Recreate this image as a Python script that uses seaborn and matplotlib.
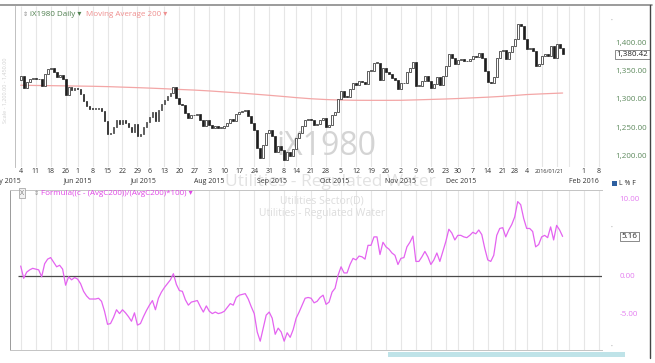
import numpy as np
import pandas as pd
import matplotlib
matplotlib.use("Agg")
import matplotlib.pyplot as plt
from matplotlib.patches import Rectangle
import seaborn as sns

sns.set_theme(style="white")
plt.rcParams['font.family'] = ['Open Sans', 'DejaVu Sans']

# ---------------- data ----------------
holidays = ["2015-05-25", "2015-07-03", "2015-09-07", "2015-11-26",
            "2015-12-25", "2016-01-01", "2016-01-18"]

close = [1343.2, 1322.0, 1332.6, 1336.6, 1339.3, 1337.5, 1336.2, 1324.2, 1346.6, 1354.5,
         1357.1, 1349.1, 1341.0, 1343.6, 1336.9, 1308.9, 1323.4, 1318.1, 1322.0, 1319.2,
         1311.2, 1297.9, 1289.9, 1284.5, 1284.4, 1284.4, 1285.6, 1280.1, 1262.8, 1240.1,
         1241.3, 1251.7, 1264.8, 1258.0, 1264.5, 1259.0, 1252.2, 1244.2, 1258.5, 1237.2,
         1239.8, 1251.5, 1261.8, 1270.8, 1278.5, 1262.4, 1282.0, 1292.3, 1300.0, 1306.3,
         1312.7, 1323.0, 1304.3, 1293.5, 1292.0, 1277.2, 1267.8, 1272.9, 1273.9, 1275.1,
         1264.3, 1254.7, 1265.0, 1255.4, 1251.1, 1253.4, 1250.5, 1251.4, 1253.7, 1259.9,
         1266.2, 1263.2, 1276.0, 1279.6, 1280.6, 1281.5, 1272.1, 1258.6, 1246.4, 1214.5,
         1198.4, 1220.3, 1242.2, 1246.9, 1236.1, 1208.2, 1218.2, 1211.3, 1194.9, 1208.8,
         1200.6, 1213.3, 1232.5, 1242.5, 1253.9, 1265.2, 1266.1, 1264.4, 1256.2, 1258.5,
         1264.6, 1268.4, 1252.6, 1256.4, 1273.1, 1279.5, 1301.5, 1315.6, 1305.1, 1305.0,
         1319.1, 1329.4, 1326.8, 1333.3, 1332.0, 1328.1, 1351.5, 1351.5, 1365.8, 1365.8,
         1335.9, 1356.7, 1348.9, 1345.0, 1338.5, 1334.6, 1319.0, 1329.4, 1330.7, 1349.0,
         1357.0, 1367.5, 1324.8, 1324.9, 1332.9, 1342.1, 1333.2, 1320.3, 1328.3, 1340.1,
         1326.0, 1343.0, 1360.2, 1381.1, 1374.8, 1363.4, 1371.4, 1371.7, 1369.3, 1368.3,
         1372.4, 1377.9, 1375.5, 1382.2, 1374.6, 1351.4, 1332.1, 1329.7, 1340.3, 1374.5,
         1386.5, 1388.1, 1372.6, 1384.8, 1394.4, 1408.3, 1434.9, 1430.1, 1407.0, 1390.8,
         1391.2, 1386.2, 1360.2, 1364.3, 1377.7, 1380.5, 1376.8, 1395.3, 1373.3, 1398.7,
         1391.0, 1380.42]

open_ = [1335.0, 1343.2, 1322.0, 1332.6, 1336.6, 1339.3, 1337.5, 1336.2, 1324.2, 1346.6,
         1354.5, 1357.1, 1349.1, 1341.0, 1343.6, 1336.9, 1308.9, 1323.4, 1318.1, 1322.0,
         1319.2, 1311.2, 1297.9, 1289.9, 1284.5, 1284.4, 1284.4, 1285.6, 1280.1, 1262.8,
         1240.1, 1241.3, 1251.7, 1264.8, 1258.0, 1264.5, 1259.0, 1252.2, 1244.2, 1258.5,
         1237.2, 1239.8, 1251.5, 1261.8, 1270.8, 1278.5, 1262.4, 1282.0, 1292.3, 1300.0,
         1306.3, 1312.7, 1323.0, 1304.3, 1293.5, 1292.0, 1277.2, 1267.8, 1272.9, 1273.9,
         1275.1, 1264.3, 1254.7, 1265.0, 1255.4, 1251.1, 1253.4, 1250.5, 1251.4, 1253.7,
         1259.9, 1266.2, 1263.2, 1276.0, 1279.6, 1280.6, 1281.5, 1272.1, 1258.6, 1246.4,
         1214.5, 1198.4, 1220.3, 1242.2, 1246.9, 1236.1, 1208.2, 1218.2, 1211.3, 1194.9,
         1208.8, 1200.6, 1213.3, 1232.5, 1242.5, 1253.9, 1265.2, 1266.1, 1264.4, 1256.2,
         1258.5, 1264.6, 1268.4, 1252.6, 1256.4, 1273.1, 1279.5, 1301.5, 1315.6, 1305.1,
         1305.0, 1319.1, 1329.4, 1326.8, 1333.3, 1332.0, 1328.1, 1351.5, 1351.5, 1365.8,
         1365.8, 1335.9, 1356.7, 1348.9, 1345.0, 1338.5, 1334.6, 1319.0, 1329.4, 1330.7,
         1349.0, 1357.0, 1367.5, 1324.8, 1324.9, 1332.9, 1342.1, 1333.2, 1320.3, 1328.3,
         1340.1, 1326.0, 1343.0, 1360.2, 1381.1, 1374.8, 1363.4, 1371.4, 1371.7, 1369.3,
         1368.3, 1372.4, 1377.9, 1375.5, 1382.2, 1374.6, 1351.4, 1332.1, 1329.7, 1340.3,
         1374.5, 1386.5, 1388.1, 1372.6, 1384.8, 1394.4, 1408.3, 1434.9, 1430.1, 1407.0,
         1390.8, 1391.2, 1386.2, 1360.2, 1364.3, 1377.7, 1380.5, 1376.8, 1395.3, 1373.3,
         1398.7, 1391.0]

osc = [1.3, -0.3, 0.5, 0.8, 1.0, 0.9, 0.8, -0.1, 1.6, 2.2,
       2.4, 1.8, 1.2, 1.4, 0.9, -1.2, -0.1, -0.5, -0.2, -0.4,
       -1.0, -2.0, -2.6, -3.0, -3.0, -3.0, -2.9, -3.3, -4.6, -6.3,
       -6.2, -5.4, -4.4, -4.9, -4.4, -4.8, -5.3, -5.9, -4.8, -6.4,
       -6.2, -5.3, -4.5, -3.8, -3.2, -4.4, -2.9, -2.1, -1.5, -1.0,
       -0.5, 0.3, -1.1, -1.9, -2.0, -3.1, -3.8, -3.4, -3.3, -3.2,
       -4.0, -4.7, -3.9, -4.6, -4.9, -4.7, -4.9, -4.8, -4.6, -4.1,
       -3.6, -3.8, -2.8, -2.5, -2.4, -2.3, -3.0, -4.0, -4.9, -7.3,
       -8.5, -6.8, -5.1, -4.7, -5.5, -7.6, -6.8, -7.3, -8.5, -7.4,
       -8.0, -7.0, -5.5, -4.7, -3.8, -2.9, -2.8, -2.9, -3.5, -3.3,
       -2.8, -2.5, -3.7, -3.4, -2.1, -1.6, 0.1, 1.2, 0.4, 0.4,
       1.5, 2.3, 2.1, 2.6, 2.5, 2.2, 4.0, 4.0, 5.1, 5.1,
       2.8, 4.4, 3.8, 3.5, 3.0, 2.7, 1.5, 2.3, 2.4, 3.8,
       4.4, 5.2, 1.9, 1.9, 2.5, 3.2, 2.5, 1.5, 2.1, 3.0,
       1.9, 3.2, 4.5, 6.1, 5.6, 4.7, 5.3, 5.3, 5.1, 5.0,
       5.3, 5.7, 5.5, 6.0, 5.4, 3.6, 2.1, 1.9, 2.7, 5.3,
       6.2, 6.3, 5.1, 6.0, 6.7, 7.7, 9.7, 9.3, 7.5, 6.2,
       6.2, 5.8, 3.8, 4.1, 5.1, 5.3, 5.0, 6.4, 4.7, 6.6,
       6.0, 5.16]

ma_dates = ["2015-05-04", "2015-05-11", "2015-05-18", "2015-05-26", "2015-06-01", "2015-06-08",
            "2015-06-15", "2015-06-22", "2015-06-29", "2015-07-06", "2015-07-13", "2015-07-20",
            "2015-07-27", "2015-08-03", "2015-08-10", "2015-08-17", "2015-08-24", "2015-08-31",
            "2015-09-08", "2015-09-14", "2015-09-21", "2015-09-28", "2015-10-05", "2015-10-12",
            "2015-10-19", "2015-10-26", "2015-11-02", "2015-11-09", "2015-11-16", "2015-11-23",
            "2015-11-30", "2015-12-07", "2015-12-14", "2015-12-21", "2015-12-28", "2016-01-04",
            "2016-01-11", "2016-01-19", "2016-01-21"]
ma200 = [1326.0, 1325.6, 1325.3, 1324.9, 1324.6, 1324.2, 1323.6, 1322.7, 1321.8, 1321.0,
         1319.9, 1318.6, 1317.5, 1316.0, 1314.2, 1312.4, 1310.4, 1308.3, 1306.1, 1304.2,
         1302.2, 1300.8, 1299.9, 1299.5, 1299.4, 1299.4, 1299.5, 1300.2, 1301.0, 1301.8,
         1302.6, 1303.8, 1305.0, 1306.5, 1308.0, 1309.6, 1310.8, 1311.9, 1312.3]

grid_dates = ma_dates[:-1] + ["2016-01-25", "2016-02-01", "2016-02-08"]
day_labels = ["4", "11", "18", "26", "1", "8", "15", "22", "29", "6", "13", "20", "27", "3",
              "10", "17", "24", "31", "8", "14", "21", "28", "5", "12", "19", "26", "2", "9",
              "16", "23", "30", "7", "14", "21", "28", "4", "", "", "", "1", "8"]
month_labels = ["May 2015", "Jun 2015", "Jul 2015", "Aug 2015", "Sep 2015", "Oct 2015",
                "Nov 2015", "Dec 2015", "Feb 2016"]
month_dates = [None, "2015-06-01", "2015-07-01", "2015-08-03", "2015-09-01", "2015-10-01",
               "2015-11-02", "2015-12-01", "2016-02-01"]
price_ticks = [1200, 1250, 1300, 1350, 1400]
osc_ticks = [10, 0, -5]

# ---------------- layout helpers ----------------
W, H = 655, 363
cal = pd.bdate_range("2015-05-04", "2016-02-12", freq="C", holidays=holidays)
pos = {d: i for i, d in enumerate(cal)}
def tpos(d):
    return pos[pd.Timestamp(d)]

X0, PXD = 20.7, 2.994
def t_of(px):
    return (px - X0) / PXD
def price_of(py):
    return 1300 + (100 - py) / 0.567
def osc_of(py):
    return (276 - py) / 7.67
def fx(px):
    return px / W
def fy(py):
    return 1 - py / H

t = np.arange(len(close))

fig = plt.figure(figsize=(6.55, 3.63), dpi=100)
fig.patch.set_facecolor("white")

ax1 = fig.add_axes([fx(15), fy(167), fx(602) - fx(15), fy(6) - fy(167)])
ax2 = fig.add_axes([fx(10), fy(350), fx(602) - fx(10), fy(190) - fy(350)])
ax1.set_xlim(t_of(15), t_of(602))
ax2.set_xlim(t_of(10), t_of(602))
ax1.set_ylim(price_of(167), price_of(6))
ax2.set_ylim(osc_of(350), osc_of(190))

for ax in (ax1, ax2):
    ax.set_facecolor("white")
    ax.set_xticks([])
    ax.set_yticks([])
    for s in ax.spines.values():
        s.set_visible(False)
    gx = [tpos(d) for d in grid_dates]
    ax.vlines(gx, 0, 1, transform=ax.get_xaxis_transform(), color="#e6e6e6", lw=0.8, zorder=0)

ax1.spines["left"].set_visible(True)
ax1.spines["left"].set_color("#b5b5b5")
ax1.spines["left"].set_linewidth(0.6)
for s in ("left", "top", "bottom"):
    ax2.spines[s].set_visible(True)
    ax2.spines[s].set_linewidth(0.7)
ax2.spines["left"].set_color("#9a9a9a")
ax2.spines["top"].set_color("#c4c4c4")
ax2.spines["bottom"].set_color("#c4c4c4")

# watermarks
ax1.text(t_of(326), price_of(147), "iX1980", fontsize=23, color="#d4d4d4",
         ha="center", va="center", zorder=1)
fig.text(fx(330), fy(182), "Utilities - Regulated Water", fontsize=12.5, color="#e2e2e2",
         ha="center", va="center", zorder=-5)
ax2.text(t_of(322), osc_of(201), "Utilities Sector(D)", fontsize=7.5, color="#dcdcdc",
         ha="center", va="center", zorder=1)
ax2.text(t_of(322), osc_of(214), "Utilities - Regulated Water", fontsize=7.5, color="#dcdcdc",
         ha="center", va="center", zorder=1)

# candles
o = np.array(open_)
c = np.array(close)
up = c >= o
lo = np.minimum(o, c)
hgt = np.maximum(np.abs(c - o), 1.2)
ax1.bar(t[up], hgt[up], bottom=lo[up], width=0.6, color="white",
        edgecolor="#1e1e1e", linewidth=0.5, zorder=4)
ax1.bar(t[~up], hgt[~up], bottom=lo[~up], width=0.6, color="#1e1e1e",
        edgecolor="#1e1e1e", linewidth=0.5, zorder=4)

# moving average
ma_t = [tpos(d) for d in ma_dates]
sns.lineplot(x=ma_t, y=ma200, ax=ax1, color="#f3a6a6", lw=0.9, zorder=3)

# oscillator
ax2.hlines(0, t_of(18), t_of(602), color="#4a4a4a", lw=0.9, zorder=2)
sns.lineplot(x=t, y=osc, ax=ax2, color="#e463f0", lw=0.9, zorder=3)
ax1.set_xlabel(""); ax1.set_ylabel(""); ax2.set_xlabel(""); ax2.set_ylabel("")

# date labels
xt = ax1.get_xaxis_transform()
for d, lab in zip(grid_dates, day_labels):
    if lab:
        ax1.text(tpos(d), -0.027, lab, transform=xt, fontsize=5, color="#333333",
                 ha="center", va="center", clip_on=False)
ax1.text(tpos("2016-01-14") - 0.5, -0.03, "2016/01/21", transform=xt, fontsize=4,
         color="#333333", ha="center", va="center", clip_on=False)
for lab, d in zip(month_labels, month_dates):
    xx = t_of(5) if d is None else tpos(d)
    ax1.text(xx, -0.088, lab, transform=xt, fontsize=5, color="#333333",
             ha="center", va="center", clip_on=False)

# right axis labels
yt1 = ax1.get_yaxis_transform()
for v in price_ticks:
    ax1.text(1.023, v, f"{v:,.2f}", transform=yt1, fontsize=5.8, color="#5e8a5e",
             ha="left", va="center", clip_on=False)
ax1.text(1.025, close[-1], f"{close[-1]:,.2f}", transform=yt1, fontsize=5.8, color="#222222",
         ha="left", va="center", clip_on=False,
         bbox=dict(boxstyle="square,pad=0.15", fc="white", ec="#777777", lw=0.6))
yt2 = ax2.get_yaxis_transform()
for v in osc_ticks:
    ax2.text(1.03, v, f"{v:.2f}", transform=yt2, fontsize=5.8, color="#e47ef0",
             ha="left", va="center", clip_on=False)
ax2.text(1.033, osc[-1], f"{osc[-1]:.2f}", transform=yt2, fontsize=5.8, color="#222222",
         ha="left", va="center", clip_on=False,
         bbox=dict(boxstyle="square,pad=0.15", fc="white", ec="#777777", lw=0.6))

# legends / headers
fig.text(fx(23), fy(14), "⇕", fontsize=4.5, color="#888888", ha="left", va="center",
         family=["DejaVu Sans"])
fig.text(fx(30), fy(14), "iX1980 Daily ▾", fontsize=5.8, color="#4f7f4f", ha="left",
         va="center", family=["Open Sans", "DejaVu Sans"])
fig.text(fx(86), fy(14), "Moving Average 200 ▾", fontsize=5.8, color="#ef8f8f", ha="left",
         va="center", family=["Open Sans", "DejaVu Sans"])
fig.text(fx(22), fy(193), "X", fontsize=5, color="#777777", ha="center", va="center",
         bbox=dict(boxstyle="square,pad=0.2", fc="#f2f2f2", ec="#999999", lw=0.5))
fig.text(fx(34), fy(193), "⇕", fontsize=4.5, color="#888888", ha="left", va="center",
         family=["DejaVu Sans"])
fig.text(fx(41), fy(193), "Formula((c - (AvgC200))/(AvgC200)*100) ▾", fontsize=5.8,
         color="#e045e6", ha="left", va="center", family=["Open Sans", "DejaVu Sans"])
fig.text(fx(5), fy(90), "Scale - 1,200.00 - 1,450.00", fontsize=4, color="#d0d0d0",
         rotation=90, ha="center", va="center")

# chrome
fig.add_artist(plt.Line2D([0, fx(652)], [fy(5), fy(5)], color="#8a8a8a", lw=1.2))
fig.add_artist(plt.Line2D([fx(650), fx(650)], [fy(5), fy(358)], color="#444444", lw=1.0))
fig.add_artist(Rectangle((fx(388), fy(357)), fx(237), 5 / H, color="#bfe3e8", lw=0))
fig.add_artist(Rectangle((fx(612), fy(186)), 5 / W, 5 / H, color="#2d5fa0", lw=0))
fig.text(fx(619), fy(183.5), "L % F", fontsize=5, color="#333333", ha="left", va="center")
for yy in (20, 227, 346):
    fig.text(fx(612), fy(yy), "•", fontsize=3.5, color="#b0b0b0", ha="center", va="center")

fig.savefig("out.png", dpi=100, facecolor="white")
